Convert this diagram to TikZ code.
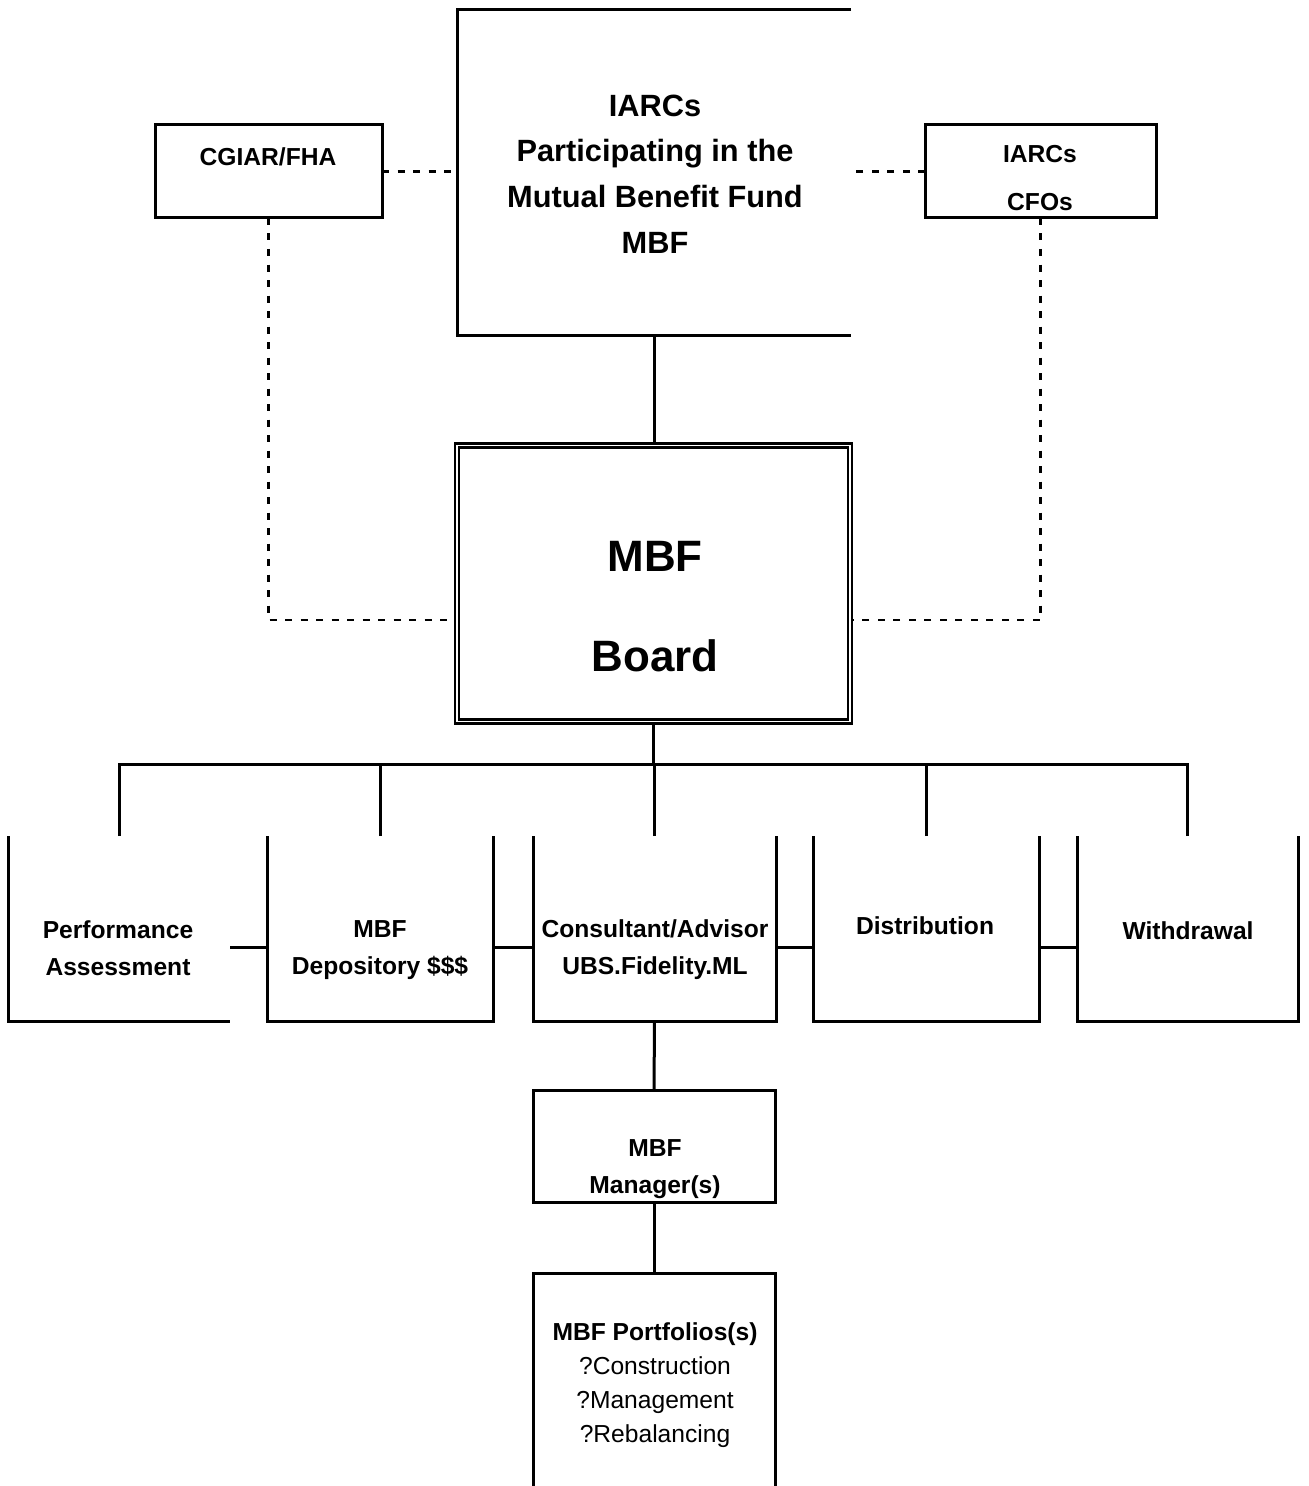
\documentclass[tikz,border=0pt]{standalone}
\usepackage{fontspec}
\setmainfont{Liberation Sans}

\begin{document}
\begin{tikzpicture}[x=0.2mm,y=-0.2mm,line width=0.6mm,
  box/.style={rectangle,inner sep=0pt,outer sep=0pt},
  lbl/.style={align=center,font=\fontsize{14}{21}\selectfont\bfseries},
  dotline/.style={dash pattern=on 1.4mm off 1.7mm,line width=0.5mm}]
\useasboundingbox (0,0) rectangle (1308,1486);

% top row
\node [box,minimum width=78.8mm,minimum height=65mm] (iarcs) at(654,172.5){};
\node [lbl,font=\fontsize{17.5}{26}\selectfont\bfseries] (iarcstxt) at(655,174){IARCs\\Participating in the\\Mutual Benefit Fund\\MBF};
\draw (iarcs.north east) -- (iarcs.north west) -- (iarcs.south west) -- (iarcs.south east);

\node [draw,box,minimum width=45.4mm,minimum height=18.6mm] (cgiar) at(268.5,171.5){};
\node [lbl] (cgiartxt) at(268,157){CGIAR/FHA};

\node [draw,box,minimum width=46.2mm,minimum height=18.6mm] (cfo) at(1040.5,171.5){};
\node [lbl,font=\fontsize{14}{27}\selectfont\bfseries] (cfotxt) at(1040,178){IARCs\\CFOs};

% board
\node [draw,box,double,line width=0.5mm,double distance=0.3mm,outer sep=0.65mm,minimum width=78.6mm,minimum height=55.2mm] (board) at(653.5,583.5){};
\node [lbl,font=\fontsize{25}{57}\selectfont\bfseries] (boardtxt) at(655,607){MBF\\Board};

\draw (iarcs.south) -- (iarcs.south |- board.north);
\draw[dotline] (cgiar.east) -- (cgiar.east -| iarcs.west);
\draw[dotline] (cfo.west) -- (cfo.west -| iarcs.east);
\draw[dotline] (cgiar.south) |- ([yshift=-7.3mm]board.west);
\draw[dotline] (cfo.south) |- ([yshift=-7.3mm]board.east);

% second row
\node [box,minimum width=44.2mm,minimum height=37mm] (perf) at(119.5,928.5){};
\node [box,minimum width=45.2mm,minimum height=37mm] (dep) at(380,928.5){};
\node [box,minimum width=48.6mm,minimum height=37mm] (cons) at(654.5,928.5){};
\node [box,minimum width=45.2mm,minimum height=37mm] (dist) at(926,928.5){};
\node [box,minimum width=44.2mm,minimum height=37mm] (wdr) at(1187.5,928.5){};

\node [lbl] (perftxt) at(118,948){Performance\\Assessment};
\node [lbl] (deptxt) at(380,950){MBF\\Depository \$\$\$};
\node [lbl] (constxt) at(655,950){Consultant/Advisor\\UBS.Fidelity.ML};
\node [lbl] (disttxt) at(925,926){Distribution};
\node [lbl] (wdrtxt) at(1188,931){Withdrawal};

\draw (perf.north west) -- (perf.south west) -- (perf.south east);
\foreach \bx in {dep,cons,dist,wdr}
  \draw (\bx.north west) -- (\bx.south west) -- (\bx.south east) -- (\bx.north east);

\coordinate (bus) at(655,764);
\draw (board.south) -- (board.south |- bus);
\foreach \bx in {perf,dep,cons,dist,wdr}
  \draw (\bx.north) |- (bus);
\foreach \p/\q in {perf/dep,dep/cons,cons/dist,dist/wdr}
  \draw ([yshift=-3.7mm]\p.east) -- ([yshift=-3.7mm]\q.west);

% manager and portfolio
\node [draw,box,minimum width=48.4mm,minimum height=22.4mm] (mgr) at(654,1146){};
\node [lbl] (mgrtxt) at(655,1169){MBF\\Manager(s)};

\node [box,minimum width=48.4mm,minimum height=42.6mm] (port) at(654,1379.5){};
\draw (port.south west) -- (port.north west) -- (port.north east) -- (port.south east);
\node [align=center,font=\fontsize{14}{19.3}\selectfont] (porttxt) at(655,1385){\textbf{MBF Portfolios(s)}\\?Construction\\?Management\\?Rebalancing};

\draw (cons.south) -- (mgr.north);
\draw (mgr.south) -- (port.north);
\end{tikzpicture}
\end{document}
